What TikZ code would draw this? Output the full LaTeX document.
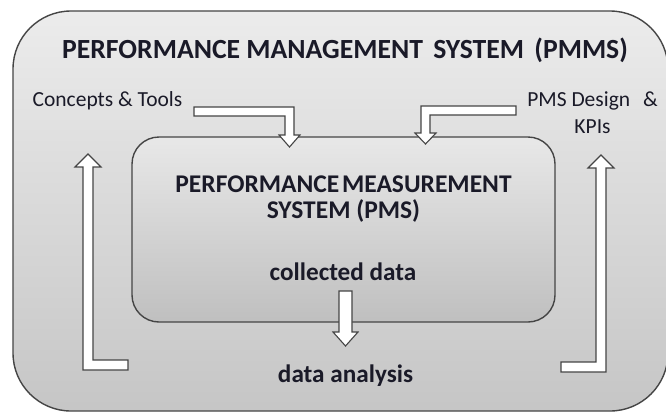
\documentclass[tikz,border=0pt]{standalone}
\usepackage{fontspec}
\setmainfont{Carlito}
\definecolor{ink}{HTML}{1A1A28}
\definecolor{edge}{HTML}{454545}
\tikzset{
  x=1pt, y=-1pt,
  panel/.style={draw=edge, line width=1.4pt},
  blockarrow/.style={draw=edge, fill=white, line width=1.1pt, line join=miter},
  heading/.style={text=ink, font=\bfseries\fontsize{27.7}{30}\selectfont, inner sep=0pt, anchor=base},
  inner heading/.style={text=ink, font=\bfseries\fontsize{25.5}{28}\selectfont, inner sep=0pt, anchor=base},
  label/.style={text=ink, font=\bfseries\fontsize{25.2}{28}\selectfont, inner sep=0pt, anchor=base},
  side/.style={text=ink, font=\fontsize{21.5}{24}\selectfont, inner sep=0pt, anchor=base},
}
\begin{document}
\begin{tikzpicture}
\useasboundingbox (0,0) rectangle (666,413);
\fill[white] (0,0) rectangle (666,413);

% outer system panel (right side runs off the page)
\shade[panel, rounded corners=58pt, top color=gray!15, bottom color=gray!45]
  (13,11) rectangle (668,411);

% inner measurement panel
\shade[panel, rounded corners=27pt, top color=gray!18, bottom color=gray!50]
  (132,137) rectangle (555,322);

% titles and labels
\node[heading] (pmms) at (345,58) {PERFORMANCE MANAGEMENT\hspace{4pt} SYSTEM\hspace{4pt} (PMMS)};
\node[side] (concepts) at (107.5,106) {Concepts \& Tools};
\node[side] (design) at (592.5,106) {PMS Design\hspace{8pt} \&};
\node[side] (kpis) at (592.5,133) {KPIs};
\node[inner heading] (pms1) at (343.5,192) {PERFORMANCE\hspace{-3pt} MEASUREMENT};
\node[inner heading] (pms2) at (343.5,218) {SYSTEM (PMS)};
\node[label] (collected) at (343,280) {collected data};
\node[label] (analysis) at (345.5,382) {data analysis};

% bent block arrow: concepts & tools into the PMS
\draw[blockarrow] (194,107) -- (294,107) -- (294,135) -- (300,135) -- (289.5,147)
  -- (279,135) -- (285,135) -- (285,116) -- (194,116) -- cycle;

% bent block arrow: PMS design & KPIs into the PMS
\draw[blockarrow] (516,106) -- (421,106) -- (421,133) -- (415,133) -- (425.5,144)
  -- (436,133) -- (430,133) -- (430,115) -- (516,115) -- cycle;

% collected data down to data analysis
\draw[blockarrow] (339,291) -- (352,291) -- (352,332) -- (358,332) -- (345.5,346)
  -- (333,332) -- (339,332) -- cycle;

% feedback loop, left side
\draw[blockarrow] (83,370) -- (128,370) -- (128,360) -- (93,360) -- (93,167)
  -- (101,167) -- (88,154) -- (75,167) -- (83,167) -- cycle;

% feedback loop, right side
\draw[blockarrow] (606,372) -- (561,372) -- (561,362) -- (596,362) -- (596,168)
  -- (588,168) -- (601,155) -- (614,168) -- (606,168) -- cycle;
\end{tikzpicture}
\end{document}
